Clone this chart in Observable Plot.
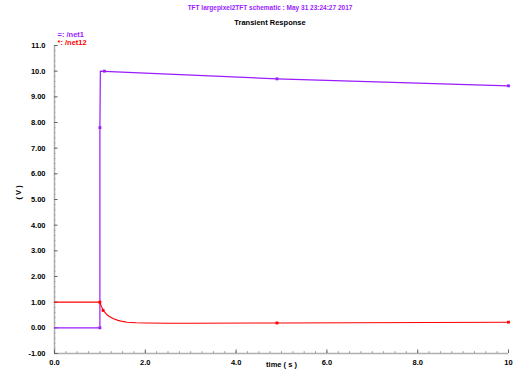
<!DOCTYPE html>
<html><head><meta charset="utf-8">
<script src="https://cdn.jsdelivr.net/npm/d3@7"></script>
<script src="https://cdn.jsdelivr.net/npm/@observablehq/plot@0.6"></script>
<style>
body{margin:0;background:#fff;font-family:"Liberation Sans",sans-serif;}
#wrap{position:relative;width:517px;height:372px;}
.t{position:absolute;white-space:nowrap;font-weight:bold;}
</style></head><body>
<div id="wrap">
<div class="t" id="t1" style="left:270px;top:4px;transform:translateX(-50%);font-size:6.5px;color:#9a1cff;"></div>
<div class="t" id="t2" style="left:270px;top:18px;transform:translateX(-50%);font-size:7.5px;color:#000;"></div>
<div id="chart" style="position:absolute;left:0;top:28px;"></div>
</div>
<script>
const title = "TFT largepixel2TFT schematic : May 31 23:24:27 2017";
const subtitle = "Transient Response";
const seriesNames = ["=: /net1", "*: /net12"];
const seriesColors = ["#9a1cff", "#ff0000"];

// net1
const t1 = [0, 1.0, 1.0, 1.01, 1.1, 4.9, 10];
const v1 = [0, 0, 7.8, 10.0, 9.99, 9.7, 9.43];
const m1t = [1.0, 1.0, 1.1, 4.9, 10];
const m1v = [0, 7.8, 10.0, 9.7, 9.43];
// net12
const t2 = [0, 1.0, 1.03, 1.07, 1.1, 1.15, 1.2, 1.3, 1.4, 1.5, 1.6, 1.8, 2.0, 2.5, 3.0, 4.9, 10];
const v2 = [1.0, 1.0, 0.84, 0.7, 0.62, 0.52, 0.45, 0.35, 0.29, 0.25, 0.22, 0.2, 0.19, 0.18, 0.18, 0.19, 0.22];
const m2t = [1.0, 1.07, 4.9, 10];
const m2v = [1.0, 0.68, 0.19, 0.22];

const yTicks = [-1, 0, 1, 2, 3, 4, 5, 6, 7, 8, 9, 10, 11];
const yTickLabels = ["-1.00", "0.00", "1.00", "2.00", "3.00", "4.00", "5.00", "6.00", "7.00", "8.00", "9.00", "10.0", "11.0"];
const xTicks = [0, 2, 4, 6, 8, 10];
const xTickLabels = ["0.0", "2.0", "4.0", "6.0", "8.0", "10"];
const xLabel = "time ( s )";
const yLabel = "( V )";

document.getElementById("t1").textContent = title;
document.getElementById("t2").textContent = subtitle;

const d1 = t1.map((t, i) => ({t, v: v1[i]}));
const d2 = t2.map((t, i) => ({t, v: v2[i]}));
const dm1 = m1t.map((t, i) => ({t, v: m1v[i]}));
const dm2 = m2t.map((t, i) => ({t, v: m2v[i]}));
const yMinor = d3.range(-1, 11.001, 0.2).map(d => +d.toFixed(2));
const xMinor = d3.range(0, 10.001, 0.25).map(d => +d.toFixed(2));

const font = "bold 7.5px 'Liberation Sans', sans-serif";
const plot = Plot.plot({
  width: 517, height: 344,
  marginTop: 17, marginBottom: 19, marginLeft: 54, marginRight: 9,
  style: {font, background: "#fff", overflow: "visible"},
  x: {domain: [0, 10], axis: null},
  y: {domain: [-1, 11], axis: null},
  marks: [
    Plot.ruleX([0], {stroke: "#b0b0b0", strokeWidth: 1.5}),
    Plot.ruleY([-1], {stroke: "#b0b0b0", strokeWidth: 1.5}),
    Plot.ruleY(yMinor, {y: d => d, x1: 0, x2: 0.03, stroke: "#999", strokeWidth: 1}),
    Plot.ruleY(yTicks, {y: d => d, x1: 0, x2: 0.08, stroke: "#666", strokeWidth: 1}),
    Plot.ruleX(xMinor, {x: d => d, y1: -1, y2: -0.93, stroke: "#999", strokeWidth: 1}),
    Plot.ruleX(xTicks, {x: d => d, y1: -1, y2: -0.86, stroke: "#666", strokeWidth: 1}),
    Plot.text(yTicks, {x: 0, y: d => d, text: (d, i) => yTickLabels[i], textAnchor: "end", dx: -9, fill: "#000"}),
    Plot.text(xTicks, {x: d => d, y: -1, text: (d, i) => xTickLabels[i], dy: 9, fill: "#000"}),
    Plot.text([xLabel], {frameAnchor: "bottom", dy: 13, fill: "#000"}),
    Plot.text([yLabel], {frameAnchor: "left", dx: -36, rotate: -90, fill: "#000"}),
    Plot.text([seriesNames[0]], {frameAnchor: "top-left", dx: 3, dy: -14, textAnchor: "start", fill: seriesColors[0]}),
    Plot.text([seriesNames[1]], {frameAnchor: "top-left", dx: 3, dy: -6, textAnchor: "start", fill: seriesColors[1]}),
    Plot.line(d1, {x: "t", y: "v", stroke: seriesColors[0], strokeWidth: 1.2}),
    Plot.line(d2, {x: "t", y: "v", stroke: seriesColors[1], strokeWidth: 1.1}),
    Plot.dot(dm1, {x: "t", y: "v", symbol: "square", r: 1.6, fill: seriesColors[0], stroke: "none"}),
    Plot.dot(dm2, {x: "t", y: "v", symbol: "square", r: 1.6, fill: seriesColors[1], stroke: "none"})
  ]
});
document.getElementById("chart").appendChild(plot);
</script>
</body></html>
